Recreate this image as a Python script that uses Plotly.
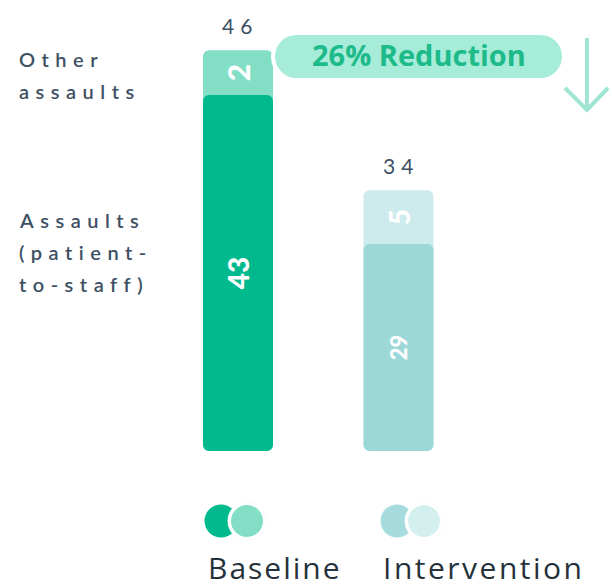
import plotly.graph_objects as go

# ---------------- data ----------------
categories = ["Baseline", "Intervention"]
assault_labels = [43, 29]          # Assaults (patient-to-staff)
other_labels = [2, 5]              # Other assaults
total_labels = [46, 34]
# bar segment heights as drawn in the picture (same unit scale)
assault_heights = [43, 25.0]
other_heights = [5.4, 6.5]
reduction_text = "26% Reduction"
series_lines = [["Other", "assaults"], ["Assaults", "(patient-", "to-staff)"]]

# ---------------- styling ----------------
W, H = 612, 586
dark_cols = ["#00B98D", "#9DD8D9"]
light_cols = ["#83DEC6", "#CDEBEC"]
legend_dark = ["#00B98D", "#A6DCDD"]
legend_light = ["#83DEC6", "#D4F0EE"]
text_col = "#3D5063"

def px(x):
    return x / W

def py(y):
    return 1 - y / H

total_heights = [a + o for a, o in zip(assault_heights, other_heights)]

fig = go.Figure()
# upper ("other") segment drawn as a full-height bar behind
fig.add_trace(go.Bar(
    x=categories, y=total_heights, base=[0, 0],
    marker=dict(color=light_cols, cornerradius=6, line=dict(width=0)),
    width=0.436, hoverinfo="skip", showlegend=False,
))
# assaults segment
fig.add_trace(go.Bar(
    x=categories, y=assault_heights, base=[0, 0],
    marker=dict(color=dark_cols, cornerradius=6, line=dict(width=0)),
    width=0.436, hoverinfo="skip", showlegend=False,
    text=[str(v) for v in assault_labels], textposition="inside",
    insidetextanchor="middle", textangle=-90,
    textfont=dict(family="Lato", color="white", size=[28, 22], weight=900),
))
# text carrier for the other segment
fig.add_trace(go.Bar(
    x=categories, y=other_heights, base=assault_heights,
    marker=dict(color="rgba(0,0,0,0)", line=dict(width=0)),
    width=0.436, hoverinfo="skip", showlegend=False,
    text=[str(v) for v in other_labels], textposition="inside",
    insidetextanchor="middle", textangle=-90,
    textfont=dict(family="Lato", color="white", size=[30, 28], weight=900),
))

annotations = []
# totals
for c, t, h in zip(categories, total_labels, total_heights):
    annotations.append(dict(
        x=c, y=h, xref="x", yref="y", text=str(t), showarrow=False,
        yanchor="middle", yshift=25, xshift=2,
        font=dict(family="Lato", size=21, color=text_col),
    ))

# left side series labels (one annotation per line)
left_y = [[59, 91], [220, 252, 284]]
for lines, ys in zip(series_lines, left_y):
    for t, yy in zip(lines, ys):
        annotations.append(dict(
            x=px(17), y=py(yy), xref="paper", yref="paper", text=t,
            showarrow=False, xanchor="left", yanchor="middle", align="left",
            font=dict(family="Lato", size=20, color=text_col, weight=600),
        ))

# category labels at bottom
for c, xx in zip(categories, [206, 381]):
    annotations.append(dict(
        x=px(xx), y=py(567), xref="paper", yref="paper", text=c,
        showarrow=False, xanchor="left", yanchor="middle", align="left",
        font=dict(family="Open Sans", size=30, color="#25323B"),
    ))

# reduction pill text
annotations.append(dict(
    x=px(418.5), y=py(55), xref="paper", yref="paper", text=reduction_text,
    showarrow=False, xanchor="center", yanchor="middle",
    font=dict(family="Open Sans", size=29, color="#1DBA8A", weight=700),
))

shapes = []
# pill
k = 0.5523
x0, x1, y0, y1 = 273, 564, 33, 80
r = (y1 - y0) / 2
cl, cr, cy = x0 + r, x1 - r, (y0 + y1) / 2
pts = [
    ("M", [(cl, y0)]),
    ("L", [(cr, y0)]),
    ("C", [(cr + k * r, y0), (x1, cy - k * r), (x1, cy)]),
    ("C", [(x1, cy + k * r), (cr + k * r, y1), (cr, y1)]),
    ("L", [(cl, y1)]),
    ("C", [(cl - k * r, y1), (x0, cy + k * r), (x0, cy)]),
    ("C", [(x0, cy - k * r), (cl - k * r, y0), (cl, y0)]),
]
path = ""
for cmd, ps in pts:
    path += cmd + " ".join(f"{px(a):.5f},{py(b):.5f}" for a, b in ps) + " "
path += "Z"
shapes.append(dict(type="path", path=path, xref="paper", yref="paper",
                   fillcolor="#A7ECD9", line=dict(color="white", width=4),
                   layer="above"))
# arrow
arrow_col = "#9FE5D1"
shapes.append(dict(type="line", xref="paper", yref="paper",
                   x0=px(587), y0=py(38), x1=px(587), y1=py(110),
                   line=dict(color=arrow_col, width=4)))
shapes.append(dict(type="path", xref="paper", yref="paper",
                   path=f"M{px(565):.5f},{py(88):.5f} L{px(587):.5f},{py(110):.5f} L{px(608):.5f},{py(88):.5f}",
                   line=dict(color=arrow_col, width=4)))

# legend circles
circ_r = 16.5
for (cxd, cxl), dc, lc in zip([(221, 247), (397, 424)], legend_dark, legend_light):
    shapes.append(dict(type="circle", xref="paper", yref="paper",
                       x0=px(cxd - circ_r), x1=px(cxd + circ_r),
                       y0=py(521 + circ_r), y1=py(521 - circ_r),
                       fillcolor=dc, line=dict(width=0)))
    shapes.append(dict(type="circle", xref="paper", yref="paper",
                       x0=px(cxl - circ_r - 3), x1=px(cxl + circ_r + 3),
                       y0=py(521 + circ_r + 3), y1=py(521 - circ_r - 3),
                       fillcolor="#F3F5F5", line=dict(width=0)))
    shapes.append(dict(type="circle", xref="paper", yref="paper",
                       x0=px(cxl - circ_r - 1), x1=px(cxl + circ_r + 1),
                       y0=py(521 + circ_r + 1), y1=py(521 - circ_r - 1),
                       fillcolor=lc, line=dict(color="white", width=3)))

unit = 356 / 43
fig.update_layout(
    width=W, height=H, margin=dict(l=0, r=0, t=0, b=0),
    paper_bgcolor="white", plot_bgcolor="white",
    barmode="overlay",
    xaxis=dict(visible=False, range=[-238 / 160.5, (W - 238) / 160.5],
               type="category", fixedrange=True),
    yaxis=dict(visible=False, range=[-(H - 451) / unit, 451 / unit],
               fixedrange=True),
    annotations=annotations, shapes=shapes,
    uniformtext=dict(mode=False),
)

post = """
document.body.style.margin = '0';
var sp = {'Other': '6.5px', 'assaults': '6.5px', 'Assaults': '6.5px', '(patient-': '6.5px',
          'to-staff)': '6.5px', '46': '6px', '34': '6px',
          'Baseline': '2px', 'Intervention': '2.5px'};
document.querySelectorAll('.annotation-text').forEach(function (t) {
  var k = t.textContent;
  if (sp.hasOwnProperty(k)) { t.style.letterSpacing = sp[k]; }
});
"""
fig.write_html("out.html", config={"displayModeBar": False, "staticPlot": True},
               post_script=post)
